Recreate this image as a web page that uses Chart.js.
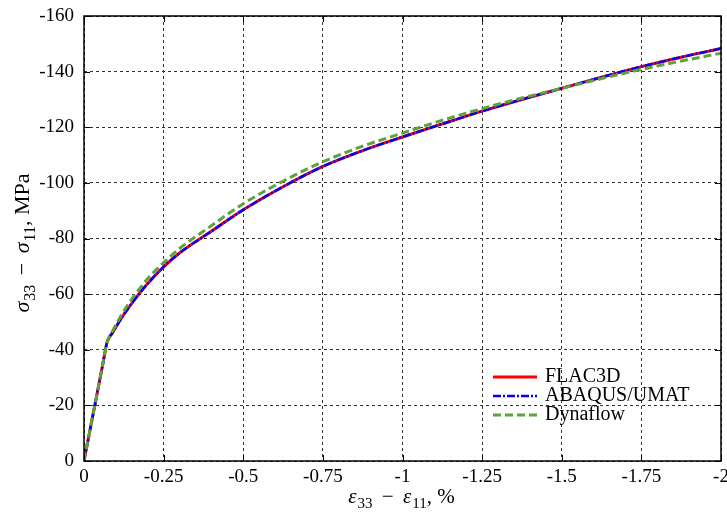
<!DOCTYPE html>
<html>
<head>
<meta charset="utf-8">
<script src="https://cdn.jsdelivr.net/npm/chart.js@4.4.1/dist/chart.umd.min.js"></script>
<style>
  html, body { margin: 0; padding: 0; background: #fff; }
  canvas { display: block; }
</style>
</head>
<body>
<canvas id="stressChart" width="727" height="514"></canvas>
<script>
// strain difference e33 - e11 (%)
const strain = [0, -0.03, -0.06, -0.072, -0.09, -0.11, -0.13, -0.15, -0.175, -0.2, -0.25, -0.3, -0.4, -0.5,
  -0.625, -0.75, -0.875, -1, -1.125, -1.25, -1.375, -1.5, -1.625, -1.75, -1.875, -2];

// deviatoric stress s33 - s11 (MPa)
const flac3d = [0, -17.7, -35.4, -42.5, -46.2, -50, -53.5, -56.7, -60.4, -63.8, -69.8, -74.8, -82.6, -90.3,
  -98.6, -105.9, -111.6, -116.5, -121.2, -125.8, -130, -134, -138, -141.8, -145.2, -148.3];
const abaqusUmat = [0, -17.7, -35.4, -42.5, -46.2, -50, -53.5, -56.7, -60.4, -63.8, -69.8, -74.8, -82.6, -90.3,
  -98.6, -105.9, -111.6, -116.5, -121.2, -125.8, -130, -134, -138, -141.8, -145.2, -148.3];
const dynaflow = [0, -17.7, -35.4, -42.5, -46.8, -51, -54.8, -58.2, -62, -65.6, -71.3, -76.4, -84.6, -92.5,
  -100.6, -107.6, -113.2, -117.9, -122.5, -126.7, -130.5, -134, -137.5, -140.8, -143.8, -146.6];

const xTicks = [0, -0.25, -0.5, -0.75, -1, -1.25, -1.5, -1.75, -2];
const xTickLabels = ['0', '-0.25', '-0.5', '-0.75', '-1', '-1.25', '-1.5', '-1.75', '-2'];
const yTicks = [0, -20, -40, -60, -80, -100, -120, -140, -160];
const yTickLabels = ['0', '-20', '-40', '-60', '-80', '-100', '-120', '-140', '-160'];

const SERIF = '"Liberation Serif", "Times New Roman", serif';

function pts(ys) {
  return strain.map((x, i) => ({ x: x, y: ys[i] }));
}

// draws text made of runs: {t, it (italic), sub (subscript)}
function drawRuns(ctx, runs, size) {
  const subSize = Math.round(size * 0.72);
  let w = 0;
  runs.forEach(r => {
    ctx.font = (r.it ? 'italic ' : '') + (r.sub ? subSize : size) + 'px ' + SERIF;
    r.w = ctx.measureText(r.t).width + (r.gap || 0);
    w += r.w;
  });
  let x = -w / 2;
  runs.forEach(r => {
    ctx.font = (r.it ? 'italic ' : '') + (r.sub ? subSize : size) + 'px ' + SERIF;
    ctx.fillText(r.t, x + (r.pre || 0), r.sub ? size * 0.25 : 0);
    x += r.w;
  });
}

const framePlugin = {
  id: 'frame',
  afterDatasetsDraw(chart) {
    const ctx = chart.ctx;
    const a = chart.chartArea;
    const xs = chart.scales.x, ys = chart.scales.y;
    ctx.save();
    ctx.strokeStyle = '#000';
    ctx.lineWidth = 1;
    // inward tick marks, mirrored
    ctx.beginPath();
    xTicks.forEach(v => {
      const px = Math.round(xs.getPixelForValue(v)) + 0.5;
      ctx.moveTo(px, a.bottom); ctx.lineTo(px, a.bottom - 6);
      ctx.moveTo(px, a.top); ctx.lineTo(px, a.top + 6);
    });
    yTicks.forEach(v => {
      const py = Math.round(ys.getPixelForValue(v)) + 0.5;
      ctx.moveTo(a.left, py); ctx.lineTo(a.left + 6, py);
      ctx.moveTo(a.right, py); ctx.lineTo(a.right - 6, py);
    });
    ctx.stroke();
    ctx.lineWidth = 1.5;
    ctx.strokeRect(a.left, a.top, a.right - a.left, a.bottom - a.top);

    // legend
    const rows = [377, 396, 415];
    chart.data.datasets.forEach((ds, i) => {
      const y = rows[i];
      ctx.strokeStyle = ds.borderColor;
      ctx.lineWidth = ds.borderWidth;
      ctx.setLineDash(ds.borderDash || []);
      ctx.beginPath();
      ctx.moveTo(493, y); ctx.lineTo(537, y);
      ctx.stroke();
      ctx.setLineDash([]);
      ctx.fillStyle = '#000';
      ctx.font = '20px ' + SERIF;
      ctx.textAlign = 'left';
      ctx.textBaseline = 'alphabetic';
      ctx.fillText(ds.label, 545, y + 5);
    });

    // axis titles
    ctx.fillStyle = '#000';
    ctx.textBaseline = 'alphabetic';
    ctx.textAlign = 'left';
    ctx.save();
    ctx.translate((a.left + a.right) / 2, 503);
    drawRuns(ctx, [
      { t: 'ε', it: true }, { t: '33', sub: true, pre: 1, gap: 1 },
      { t: ' − ', gap: 8, pre: 4 },
      { t: 'ε', it: true }, { t: '11', sub: true, pre: 1, gap: 1 },
      { t: ', %', gap: 2 }
    ], 21);
    ctx.restore();
    ctx.save();
    ctx.translate(29, 240);
    ctx.rotate(-Math.PI / 2);
    drawRuns(ctx, [
      { t: 'σ', it: true }, { t: '33', sub: true, pre: 1, gap: 1 },
      { t: ' − ', gap: 8, pre: 4 },
      { t: 'σ', it: true }, { t: '11', sub: true, pre: 1, gap: 1 },
      { t: ', MPa', gap: 6 }
    ], 22);
    ctx.restore();
    ctx.restore();
  }
};

new Chart(document.getElementById('stressChart'), {
  type: 'line',
  data: {
    datasets: [
      {
        label: 'FLAC3D',
        data: pts(flac3d),
        borderColor: '#ff0000',
        borderWidth: 3,
        order: 3
      },
      {
        label: 'ABAQUS/UMAT',
        data: pts(abaqusUmat),
        borderColor: '#0000ff',
        borderWidth: 2.5,
        borderDash: [8, 2, 2, 2],
        order: 2
      },
      {
        label: 'Dynaflow',
        data: pts(dynaflow),
        borderColor: '#5ca33c',
        borderWidth: 3,
        borderDash: [8, 4],
        order: 1
      }
    ]
  },
  options: {
    responsive: false,
    animation: false,
    devicePixelRatio: 1,
    layout: { padding: { top: 16, right: 6, left: 0, bottom: 0 } },
    elements: {
      point: { radius: 0 },
      line: { cubicInterpolationMode: 'monotone', fill: false, borderCapStyle: 'butt' }
    },
    plugins: {
      legend: { display: false },
      tooltip: { enabled: false }
    },
    scales: {
      x: {
        type: 'linear',
        reverse: true,
        min: -2,
        max: 0,
        afterBuildTicks: s => { s.ticks = xTicks.map(v => ({ value: v })); },
        afterFit: s => { s.height = 53; s.paddingLeft = 0; s.paddingRight = 0; },
        ticks: {
          color: '#000',
          font: { family: SERIF, size: 19 },
          padding: 5,
          maxRotation: 0,
          autoSkip: false,
          callback: (v, i) => xTickLabels[i]
        },
        grid: { color: '#333', lineWidth: 1, drawTicks: false },
        border: { display: false, dash: [3, 3] }
      },
      y: {
        type: 'linear',
        reverse: true,
        min: -160,
        max: 0,
        afterBuildTicks: s => { s.ticks = yTicks.map(v => ({ value: v })); },
        afterFit: s => { s.width = 84; s.paddingTop = 0; s.paddingBottom = 0; },
        ticks: {
          color: '#000',
          font: { family: SERIF, size: 19 },
          padding: 10,
          autoSkip: false,
          callback: (v, i) => yTickLabels[i]
        },
        grid: { color: '#333', lineWidth: 1, drawTicks: false },
        border: { display: false, dash: [3, 3] }
      }
    }
  },
  plugins: [framePlugin]
});
</script>
</body>
</html>
